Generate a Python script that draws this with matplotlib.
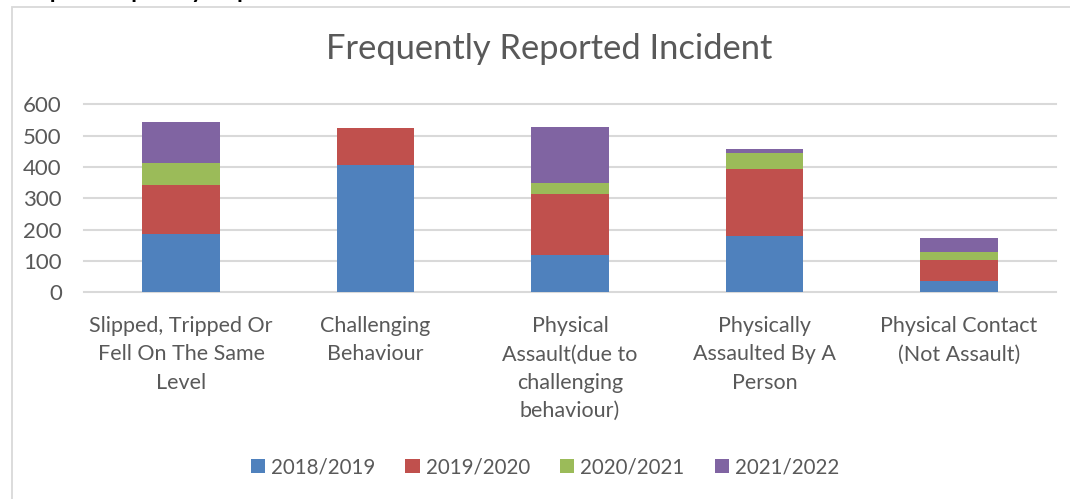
import matplotlib
matplotlib.use("Agg")
import matplotlib.pyplot as plt
from matplotlib.patches import Rectangle
import numpy as np

categories = [
    "Slipped, Tripped Or\nFell On The Same\nLevel",
    "Challenging\nBehaviour",
    "Physical\nAssault(due to\nchallenging\nbehaviour)",
    "Physically\nAssaulted By A\nPerson",
    "Physical Contact\n(Not Assault)",
]
series_names = ["2018/2019", "2019/2020", "2020/2021", "2021/2022"]
v_2018_2019 = [187, 405, 119, 181, 36]
v_2019_2020 = [155, 119, 195, 213, 67]
v_2020_2021 = [70, 0, 35, 51, 26]
v_2021_2022 = [131, 0, 179, 13, 45]
series_values = [v_2018_2019, v_2019_2020, v_2020_2021, v_2021_2022]
colors = ["#4F81BD", "#C0504D", "#9BBB59", "#8064A2"]
yticks = [0, 100, 200, 300, 400, 500, 600]

plt.rcParams['font.family'] = ['Lato', 'DejaVu Sans']
text_color = "#595959"
grid_color = "#D9D9D9"

W, H = 1070, 499
fig = plt.figure(figsize=(W / 100, H / 100), dpi=100)
fig.patch.set_facecolor("white")

def fx(px):
    return px / W

def fy(py):
    return 1 - py / H

# chart border box (extends beyond right/bottom edge)
fig.add_artist(Rectangle((fx(12), fy(520)), fx(1100 - 12), fy(7) - fy(520),
                         transform=fig.transFigure, fill=False,
                         edgecolor=grid_color, linewidth=1.3))

# document heading above the chart, cut off by the top edge as in the reference
fig.text(fx(22), fy(-2), "Top 5 Frequently Reported Incidents", fontsize=17,
         fontweight="bold", color="black", ha="left", va="baseline")

ax = fig.add_axes([fx(84), fy(292.3), fx(1056 - 84), fy(104.3) - fy(292.3)])
x = np.arange(len(categories))
bottom = np.zeros(len(categories))
for name, vals, c in zip(series_names, series_values, colors):
    ax.bar(x, vals, width=0.4, bottom=bottom, color=c, label=name, zorder=3)
    bottom += np.array(vals)

ax.set_xlim(-0.5, len(categories) - 0.5)
ax.set_ylim(0, 600)
ax.set_yticks(yticks)
ax.set_yticklabels([str(t) for t in yticks])
for t in yticks:
    ax.axhline(t, color=grid_color, linewidth=1.5, zorder=1, clip_on=False)
for s in ax.spines.values():
    s.set_visible(False)
ax.tick_params(axis="y", length=0, pad=16, labelsize=16, labelcolor=text_color)
ax.tick_params(axis="x", length=0, pad=17, labelsize=15.5, labelcolor=text_color)
ax.set_xticks(x)
ax.set_xticklabels(categories, linespacing=1.53)

fig.text(fx(549), fy(49), "Frequently Reported Incident", fontsize=24.8,
         color=text_color, ha="center", va="center")

leg = fig.legend(loc="center", bbox_to_anchor=(fx(545), fy(467)), ncol=4,
                 frameon=False, fontsize=14.8, handlelength=0.7, handleheight=0.7,
                 handletextpad=0.3, columnspacing=1.45)
for t in leg.get_texts():
    t.set_color(text_color)

fig.savefig("out.png", dpi=100)
